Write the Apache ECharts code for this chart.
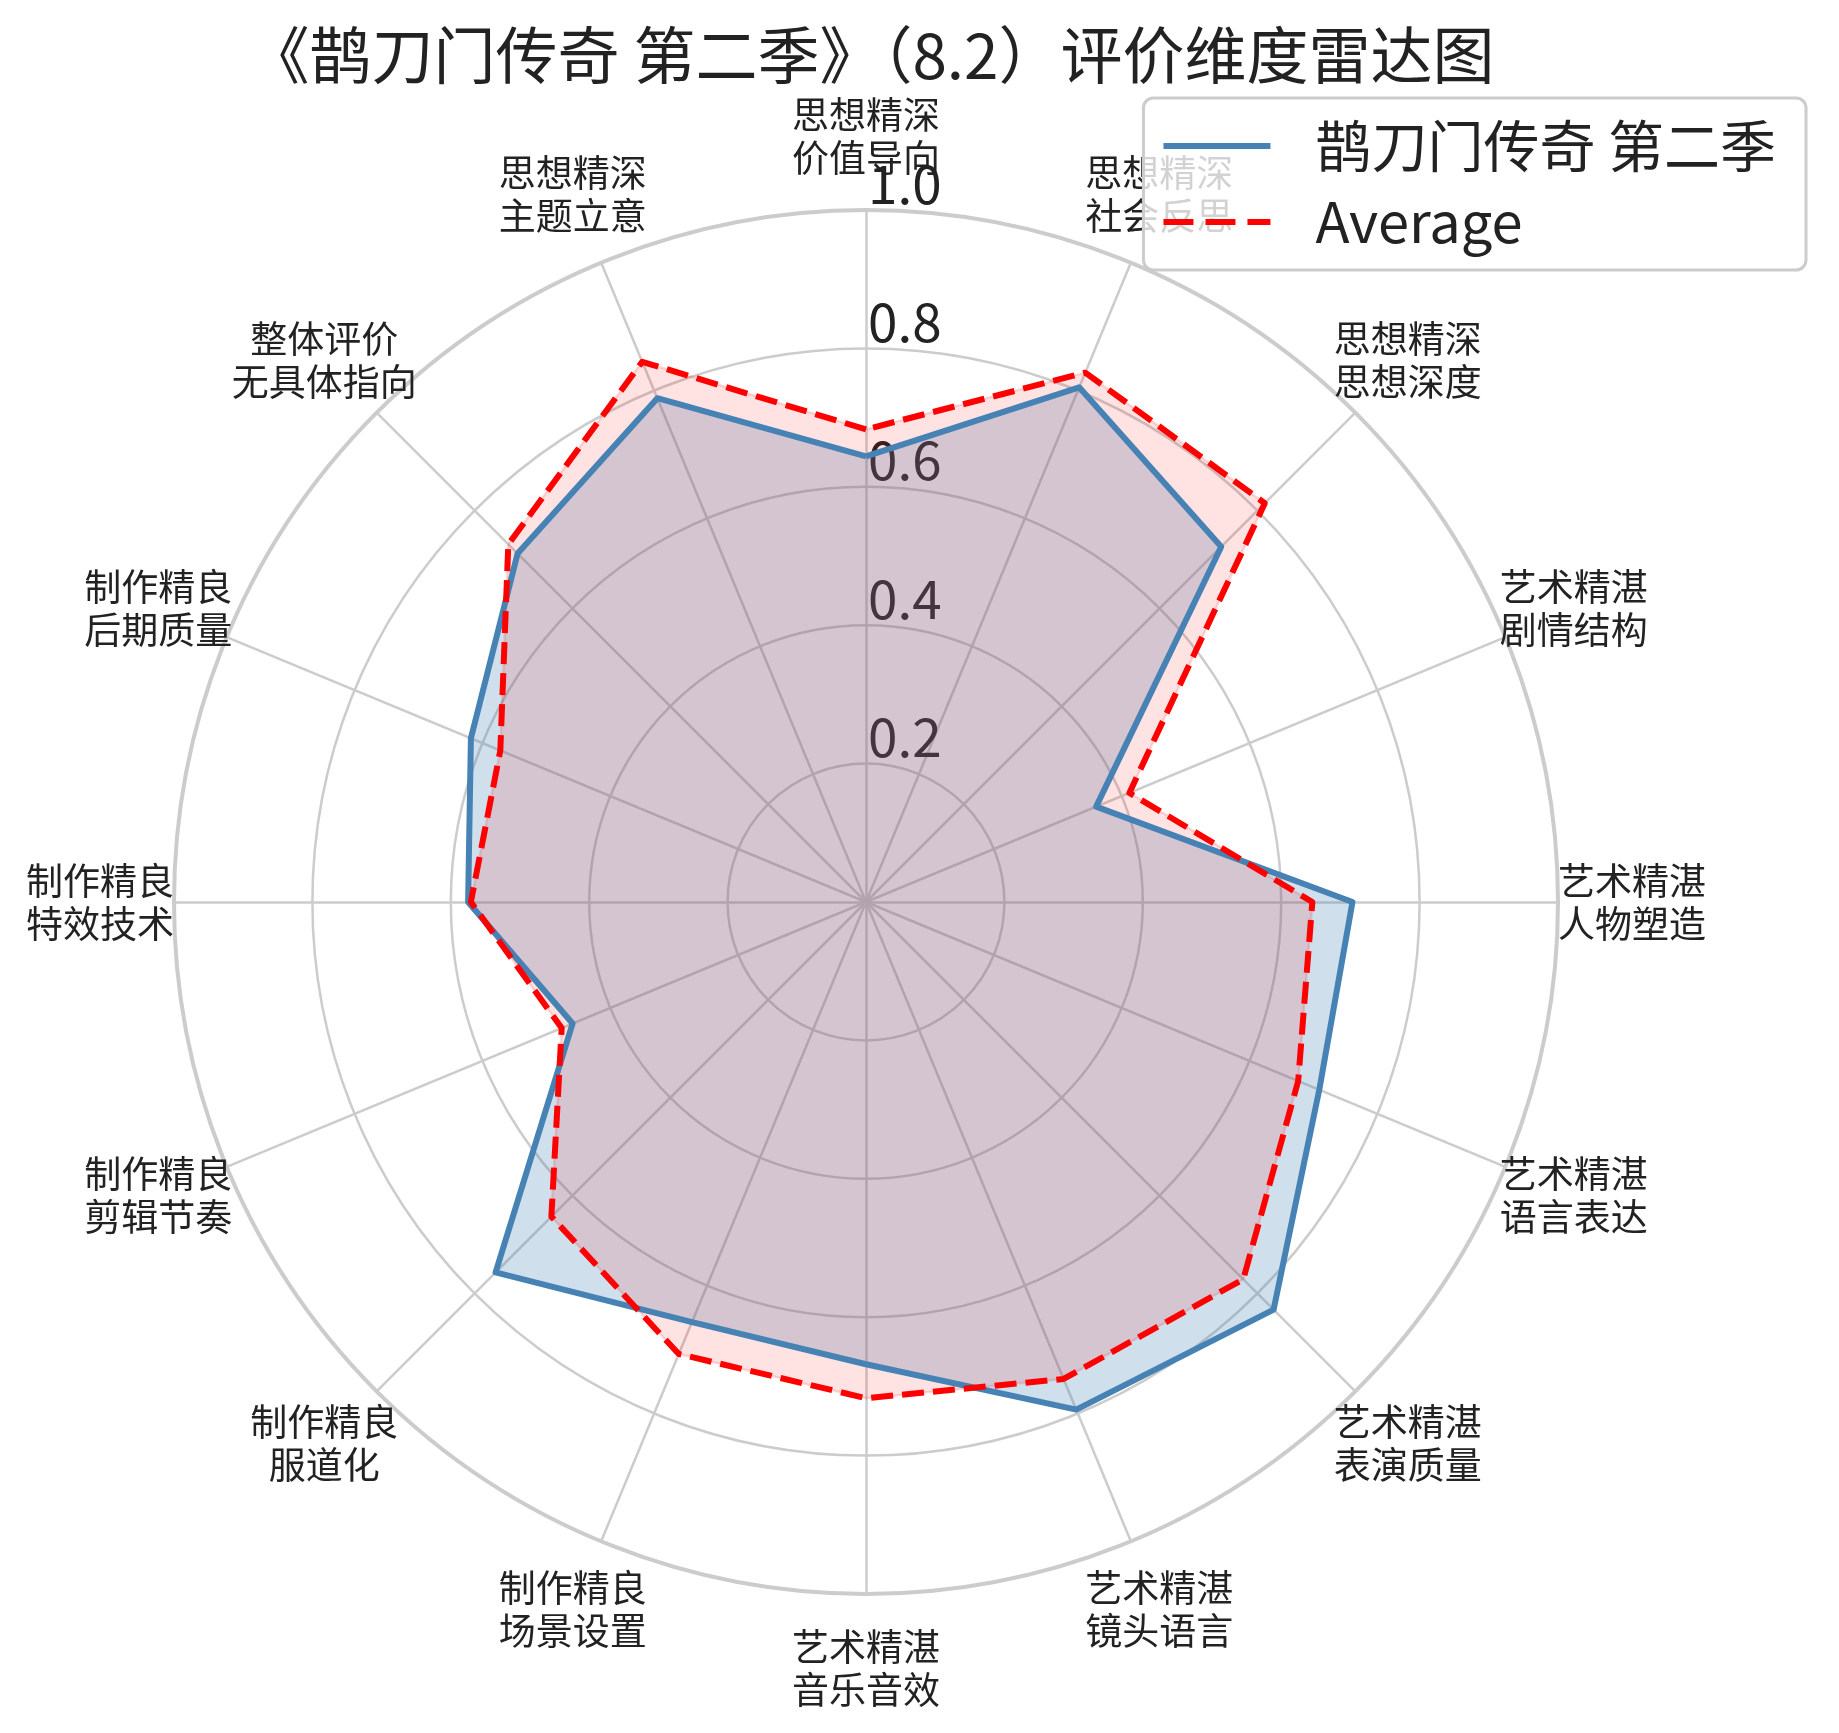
<!DOCTYPE html>
<html>
<head>
<meta charset="utf-8">
<script src="https://cdn.jsdelivr.net/npm/echarts@6/dist/echarts.min.js"></script>
<style>
html, body { margin: 0; padding: 0; background: #ffffff; }
#chart { width: 1839px; height: 1733px; }
</style>
</head>
<body>
<div id="chart"></div>
<script>
// ---- data (clockwise from the top axis) ----
const TITLE = '《鹊刀门传奇 第二季》（8.2）评价维度雷达图';
const SHOW_NAME = '鹊刀门传奇 第二季';
const AVG_NAME = 'Average';
const categories = [
  '思想精深\n价值导向', '思想精深\n社会反思', '思想精深\n思想深度', '艺术精湛\n剧情结构',
  '艺术精湛\n人物塑造', '艺术精湛\n语言表达', '艺术精湛\n表演质量', '艺术精湛\n镜头语言',
  '艺术精湛\n音乐音效', '制作精良\n场景设置', '制作精良\n服道化', '制作精良\n剪辑节奏',
  '制作精良\n特效技术', '制作精良\n后期质量', '整体评价\n无具体指向', '思想精深\n主题立意'
];
const showValues = [0.644, 0.805, 0.726, 0.360, 0.703, 0.709, 0.833, 0.794,
                    0.668, 0.657, 0.757, 0.459, 0.575, 0.618, 0.712, 0.788];
const averageValues = [0.683, 0.828, 0.815, 0.412, 0.645, 0.676, 0.771, 0.746,
                       0.717, 0.707, 0.643, 0.476, 0.571, 0.572, 0.731, 0.845];
const radialTicks = [0.2, 0.4, 0.6, 0.8, 1.0];

// ---- build options ----
const FONT = '"Noto Sans CJK SC", "Noto Sans", sans-serif';
// ECharts radar runs counter-clockwise; reorder so the chart reads clockwise
const order = [0].concat(categories.map((_, i) => i).slice(1).reverse());
const reorder = arr => order.map(i => arr[i]);
const rMax = radialTicks[radialTicks.length - 1];
const rStep = radialTicks[1] - radialTicks[0];

const CENTER = [866, 902];
const RADIUS = 692;
const BLUE = '#4682b4';
const RED = '#ff0000';

const chart = echarts.init(document.getElementById('chart'), null, { renderer: 'canvas' });
chart.setOption({
  backgroundColor: '#ffffff',
  animation: false,
  title: {
    text: TITLE,
    left: CENTER[0],
    textAlign: 'center',
    top: 19,
    textStyle: { fontFamily: FONT, fontSize: 62, fontWeight: 'normal', color: '#222222' }
  },
  legend: {
    orient: 'vertical',
    right: 33,
    top: 98,
    padding: [20, 30, 20, 20],
    itemGap: 20,
    itemWidth: 107,
    itemHeight: 6,
    borderColor: '#cccccc',
    borderWidth: 3,
    borderRadius: 10,
    backgroundColor: 'rgba(255,255,255,0.8)',
    textStyle: { fontFamily: FONT, fontSize: 56, color: '#222222', padding: [0, 0, 0, 40] },
    data: [
      { name: SHOW_NAME, icon: 'path://M0,0h107v6h-107z', itemStyle: { color: BLUE } },
      { name: AVG_NAME, icon: 'path://M0,0h30v6h-30z M42,0h30v6h-30z M84,0h23v6h-23z', itemStyle: { color: RED } }
    ]
  },
  radar: {
    center: CENTER,
    radius: RADIUS,
    startAngle: 90,
    shape: 'circle',
    splitNumber: radialTicks.length,
    nameGap: 74,
    indicator: reorder(categories).map(n => ({ name: n, min: 0, max: rMax })),
    axisName: {
      color: '#222222',
      fontFamily: FONT,
      fontSize: 37,
      lineHeight: 43,
      align: 'center',
      verticalAlign: 'middle'
    },
    axisLine: { lineStyle: { color: '#cccccc', width: 2.5 } },
    splitLine: { lineStyle: { color: '#cccccc', width: 2.5 } },
    splitArea: { show: false },
    axisTick: { show: false },
    axisLabel: { show: false }
  },
  polar: { center: CENTER, radius: RADIUS },
  angleAxis: {
    type: 'value', min: 0, max: 360, startAngle: 90, z: 0,
    axisLine: { show: true, lineStyle: { color: '#cccccc', width: 4 } },
    axisTick: { show: false }, axisLabel: { show: false }, splitLine: { show: false }
  },
  radiusAxis: {
    type: 'value', min: 0, max: rMax, interval: rStep, z: 1,
    axisLine: { show: false }, axisTick: { show: false }, splitLine: { show: false },
    axisLabel: {
      show: true,
      showMinLabel: false,
      margin: -2,
      align: 'left',
      verticalAlign: 'bottom',
      fontFamily: FONT,
      fontSize: 53,
      color: '#222222',
      formatter: v => v.toFixed(1)
    }
  },
  series: [
    { // filled areas (with their faint edges)
      type: 'radar',
      radarIndex: 0,
      symbol: 'none',
      z: 3,
      data: [
        {
          name: SHOW_NAME,
          value: reorder(showValues),
          lineStyle: { color: 'rgba(70,130,180,0.26)', width: 2.5 },
          itemStyle: { color: BLUE },
          areaStyle: { color: 'rgba(70,130,180,0.26)', opacity: 1 }
        },
        {
          name: AVG_NAME,
          value: reorder(averageValues),
          lineStyle: { color: 'rgba(255,0,0,0.14)', width: 2.5 },
          itemStyle: { color: RED },
          areaStyle: { color: 'rgba(255,0,0,0.114)', opacity: 1 }
        }
      ]
    },
    { // outlines drawn above the fills
      type: 'radar',
      radarIndex: 0,
      symbol: 'none',
      z: 4,
      data: [
        {
          name: SHOW_NAME,
          value: reorder(showValues),
          lineStyle: { color: BLUE, width: 6, join: 'round' },
          itemStyle: { color: BLUE }
        },
        {
          name: AVG_NAME,
          value: reorder(averageValues),
          lineStyle: { color: RED, width: 6, type: [22, 9] },
          itemStyle: { color: RED }
        }
      ]
    }
  ]
});
</script>
</body>
</html>
